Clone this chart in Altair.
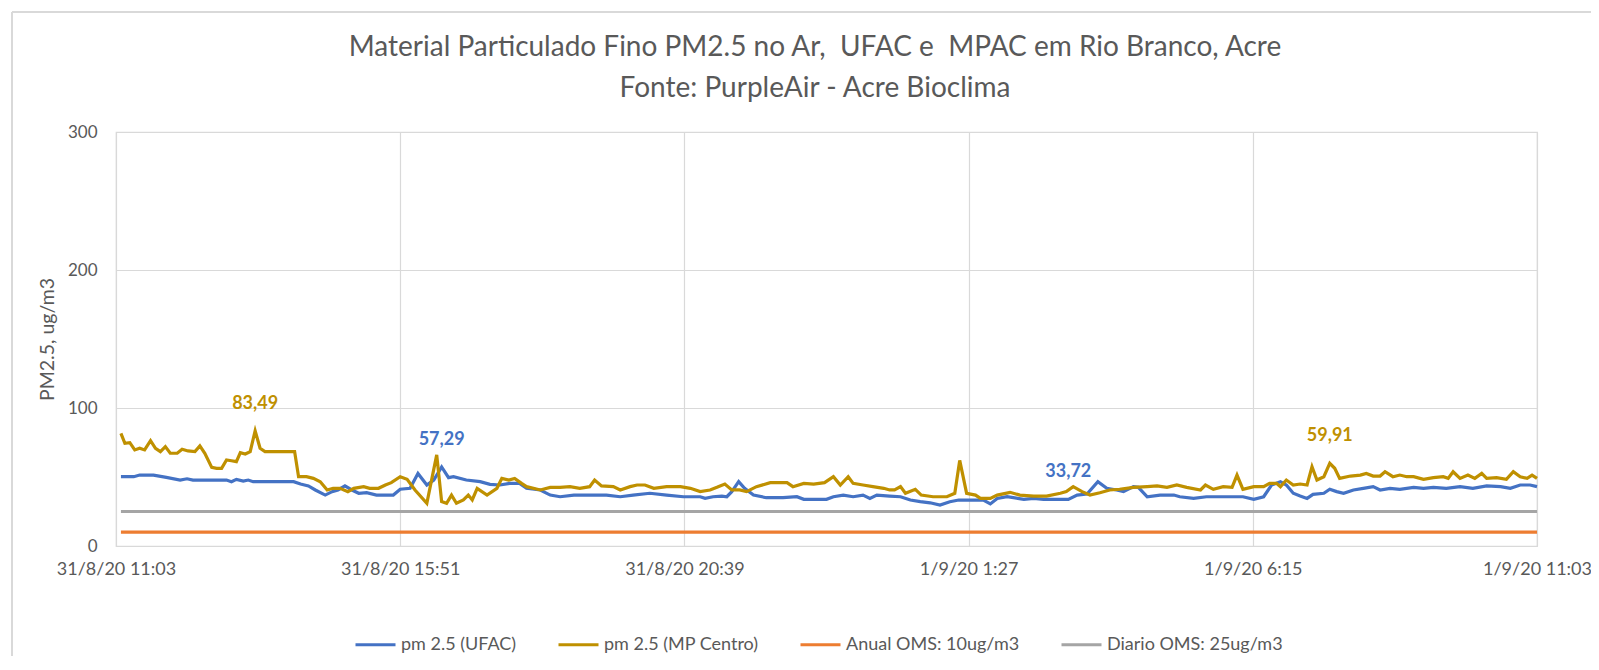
import altair as alt
import pandas as pd

START = "2020-08-31 11:03"
FONT = "Lato"
TXT = "#595959"
GRID = "#d9d9d9"

title_lines = ["Material Particulado Fino PM2.5 no Ar, \u00a0UFAC e \u00a0MPAC em Rio Branco, Acre",
               "Fonte: PurpleAir - Acre Bioclima"]
y_title = "PM2.5, ug/m3"
series_names = ["pm 2.5 (UFAC)", "pm 2.5 (MP Centro)", "Anual OMS: 10ug/m3", "Diario OMS: 25ug/m3"]
series_colors = ["#4472C4", "#BF9000", "#ED7D31", "#A5A5A5"]

# minutes after 31/8/20 11:03
ufac_minutes = [5, 18, 24, 38, 51, 65, 72, 78, 112, 117, 122, 129, 134, 139, 180, 187, 195, 202, 212, 219,
                225, 232, 239, 246, 254, 264, 281, 288, 298, 306, 315, 322, 330, 337, 342, 355, 369, 379, 389, 399,
                409, 416, 430, 440, 450, 464, 477, 497, 511, 524, 541, 558, 575, 592, 597, 605, 614, 619, 624, 631,
                637, 646, 659, 676, 690, 697, 710, 720, 727, 737, 747, 757, 764, 771, 784, 795, 805, 815, 825, 835,
                845, 854, 862, 879, 886, 893, 903, 920, 930, 940, 953, 965, 974, 984, 995, 1004, 1014, 1021, 1031, 1036,
                1045, 1058, 1072, 1078, 1092, 1105, 1119, 1132, 1142, 1153, 1163, 1171, 1180, 1186, 1193, 1200, 1207, 1213, 1224, 1230,
                1237, 1244, 1254, 1264, 1274, 1281, 1291, 1301, 1315, 1325, 1335, 1348, 1362, 1375, 1389, 1403, 1413, 1423, 1433, 1440]
ufac_values = [50.2, 50.2, 51.4, 51.4, 49.7, 47.8, 48.7, 47.8, 47.8, 46.6, 48.3, 47.1, 47.8, 46.6, 46.6, 44.9, 43.5, 40.6, 36.9, 39.4,
               40.6, 43.5, 40.6, 38.2, 38.6, 36.9, 36.9, 41.1, 41.8, 52.6, 44.2, 47.8, 57.29, 49.5, 50.2, 47.8, 46.6, 44.7, 44.2, 45.4,
               45.4, 41.8, 40.6, 36.9, 35.7, 36.9, 36.9, 36.9, 35.7, 36.9, 38.2, 36.9, 35.7, 35.7, 34.5, 35.7, 36.2, 35.7, 39.4, 46.6,
               41.8, 36.9, 35.0, 35.0, 35.7, 33.8, 33.8, 33.8, 35.7, 36.9, 35.7, 36.9, 34.5, 36.9, 36.2, 35.7, 33.3, 32.1, 31.3, 29.7,
               32.1, 33.3, 33.3, 33.3, 30.5, 34.5, 35.7, 33.8, 34.5, 33.8, 33.8, 33.72, 36.9, 37.7, 46.6, 41.8, 40.6, 39.4, 43.0, 42.5,
               35.7, 36.9, 36.9, 35.7, 34.5, 35.7, 35.7, 35.7, 35.7, 33.8, 35.7, 44.2, 46.6, 44.2, 38.2, 36.2, 34.5, 37.4, 38.2, 41.1,
               39.4, 38.2, 40.6, 41.8, 43.0, 40.6, 41.8, 41.1, 42.5, 41.8, 42.5, 41.8, 43.0, 41.8, 43.5, 43.0, 41.8, 44.2, 44.2, 43.0]

mp_minutes = [5, 9, 14, 19, 24, 29, 35, 40, 45, 50, 55, 62, 67, 73, 80, 85, 90, 97, 102, 107,
              112, 117, 122, 126, 131, 136, 141, 146, 151, 159, 181, 185, 193, 200, 207, 214, 220, 227, 235, 241,
              251, 257, 266, 273, 279, 288, 295, 303, 315, 325, 330, 335, 340, 345, 352, 357, 361, 366, 376, 386,
              391, 398, 404, 411, 416, 430, 440, 450, 460, 470, 480, 485, 492, 504, 511, 521, 528, 536, 545, 558,
              572, 582, 592, 602, 609, 617, 624, 632, 639, 649, 663, 680, 686, 697, 707, 718, 727, 734, 742, 747,
              757, 767, 778, 784, 789, 795, 800, 810, 816, 828, 842, 850, 855, 862, 871, 876, 886, 893, 906, 916,
              930, 943, 957, 963, 970, 979, 987, 997, 1007, 1017, 1031, 1045, 1055, 1065, 1075, 1085, 1099, 1104, 1112, 1122,
              1131, 1136, 1142, 1153, 1163, 1169, 1176, 1180, 1186, 1193, 1200, 1207, 1212, 1217, 1224, 1230, 1235, 1240, 1251, 1261,
              1267, 1274, 1281, 1286, 1294, 1301, 1308, 1315, 1325, 1335, 1345, 1350, 1355, 1362, 1370, 1377, 1384, 1389, 1399, 1409,
              1416, 1423, 1430, 1435, 1440]
mp_values = [81.6, 74.4, 74.9, 69.6, 70.8, 69.6, 76.3, 70.8, 68.4, 72.0, 67.2, 67.2, 70.1, 68.9, 68.4, 72.5, 67.2, 57.0, 56.3, 56.3,
             62.3, 61.8, 61.1, 67.6, 66.7, 68.4, 83.49, 70.8, 68.4, 68.4, 68.4, 50.2, 50.2, 49.0, 46.6, 40.6, 41.8, 41.8, 39.4, 41.8,
             43.0, 41.8, 41.8, 44.2, 45.9, 50.2, 48.3, 40.6, 31.0, 66.0, 32.2, 31.0, 36.9, 31.0, 33.4, 36.9, 33.4, 41.8, 36.9, 41.8,
             49.0, 47.8, 49.0, 45.4, 43.0, 40.6, 42.5, 42.5, 43.0, 41.8, 43.0, 47.8, 43.5, 43.0, 40.6, 43.0, 44.2, 44.2, 41.8, 43.0,
             43.0, 41.8, 39.4, 40.6, 42.5, 44.9, 40.6, 40.6, 39.4, 43.0, 45.9, 45.9, 43.0, 45.4, 44.9, 45.9, 50.2, 44.2, 50.2, 45.4,
             44.2, 43.0, 41.8, 40.6, 40.6, 43.0, 38.2, 41.1, 36.9, 35.7, 35.7, 38.2, 62.0, 38.2, 36.9, 34.5, 34.5, 36.9, 38.9, 36.9,
             36.2, 36.2, 38.2, 39.4, 43.0, 39.4, 36.9, 38.6, 40.6, 41.1, 42.5, 43.0, 43.5, 42.5, 44.2, 42.5, 40.6, 44.2, 41.1, 43.0,
             42.5, 51.4, 41.1, 43.0, 43.0, 45.4, 45.4, 43.0, 47.8, 44.2, 44.9, 44.2, 57.5, 47.8, 50.2, 59.91, 56.3, 49.0, 50.7, 51.4,
             52.6, 50.7, 50.7, 53.8, 50.2, 51.4, 50.2, 50.2, 48.3, 49.5, 50.2, 49.0, 53.8, 49.0, 51.4, 49.0, 52.6, 49.0, 49.5, 48.3,
             53.8, 50.2, 49.0, 51.4, 49.0]

oms_anual = 10
oms_diario = 25

label_texts = ["83,49", "57,29", "33,72", "59,91"]
label_minutes = [141, 330, 965, 1230]
label_values = [83.49, 57.29, 33.72, 59.91]
label_series = [1, 0, 0, 1]

t0 = pd.Timestamp(START)


def to_time(mins):
    return [t0 + pd.Timedelta(minutes=m) for m in mins]


rows = []
rows += [{"time": t, "value": v, "series": series_names[0]} for t, v in zip(to_time(ufac_minutes), ufac_values)]
rows += [{"time": t, "value": v, "series": series_names[1]} for t, v in zip(to_time(mp_minutes), mp_values)]
span = [ufac_minutes[0], ufac_minutes[-1]]
rows += [{"time": t, "value": oms_anual, "series": series_names[2]} for t in to_time(span)]
rows += [{"time": t, "value": oms_diario, "series": series_names[3]} for t in to_time(span)]
df = pd.DataFrame(rows)
df["order"] = df["series"].map({s: i for i, s in enumerate(series_names)})


def dt(day, month, h, m):
    return alt.DateTime(year=2020, month=month, date=day, hours=h, minutes=m)


tick_values = [dt(31, 8, 11, 3), dt(31, 8, 15, 51), dt(31, 8, 20, 39), dt(1, 9, 1, 27), dt(1, 9, 6, 15), dt(1, 9, 11, 3)]

x_enc = alt.X("time:T",
              scale=alt.Scale(domain=[tick_values[0], tick_values[-1]], nice=False),
              axis=alt.Axis(values=tick_values, format="%-d/%-m/%y %-H:%M", title=None,
                            labelFontSize=18, labelColor=TXT, labelFont=FONT, labelPadding=14,
                            labelOverlap=False, labelFlush=False, labelBound=False,
                            grid=True, gridColor=GRID, gridWidth=1.2, ticks=False, domain=False))
y_enc = alt.Y("value:Q",
              scale=alt.Scale(domain=[0, 300], nice=False),
              axis=alt.Axis(values=[0, 100, 200, 300], title=y_title, titleFontSize=19.5, titleFont=FONT,
                            titleColor=TXT, titleFontWeight="normal", titlePadding=10,
                            labelFontSize=17, labelColor=TXT, labelFont=FONT, labelPadding=19,
                            grid=True, gridColor=GRID, gridWidth=1.2, ticks=False, domain=False))

lines = alt.Chart(df).mark_line(strokeWidth=3.2).encode(
    x=x_enc,
    y=y_enc,
    color=alt.Color("series:N",
                    scale=alt.Scale(domain=series_names, range=series_colors),
                    legend=alt.Legend(title=None, orient="none", direction="horizontal",
                                      legendX=258, legendY=501,
                                      symbolType="M-3,0H1", symbolSize=400, symbolStrokeWidth=3,
                                      labelFontSize=18, labelFont=FONT, labelColor=TXT, labelLimit=400,
                                      labelOffset=4, columnPadding=35)),
    order=alt.Order("order:Q"),
)

lab_df = pd.DataFrame({
    "time": to_time(label_minutes),
    "value": label_values,
    "text": label_texts,
    "series": [series_names[i] for i in label_series],
})
label_layers = []
for i in sorted(set(label_series)):
    sub = lab_df[lab_df["series"] == series_names[i]]
    label_layers.append(
        alt.Chart(sub).mark_text(color=series_colors[i], fontSize=18, font=FONT, fontWeight="bold", dy=-27).encode(
            x="time:T", y="value:Q", text="text:N"))

title_layers = []
for line_text, ypos in zip(title_lines, [-84, -43]):
    title_layers.append(
        alt.Chart(alt.Data(values=[{"text": line_text}])).mark_text(
            fontSize=28, font=FONT, color=TXT, baseline="middle", align="center").encode(
            text="text:N", x=alt.value(699), y=alt.value(ypos)))

frame = alt.Chart(alt.Data(values=[{}])).mark_rule(color=GRID, strokeWidth=2).encode(
    x=alt.value(-104), y=alt.value(-120), y2=alt.value(560))
frame_top = alt.Chart(alt.Data(values=[{}])).mark_rule(color=GRID, strokeWidth=2).encode(
    x=alt.value(-104), x2=alt.value(1480), y=alt.value(-120))

chart = alt.layer(lines, *label_layers, *title_layers, frame, frame_top).properties(
    width=1421, height=414,
    padding={"left": 108, "top": 124, "right": 54, "bottom": 110},
    autosize=alt.AutoSizeParams(type="none"),
).configure_view(stroke=GRID, strokeWidth=1.2)

chart.save("out.html", embed_options={"renderer": "svg", "actions": False})
